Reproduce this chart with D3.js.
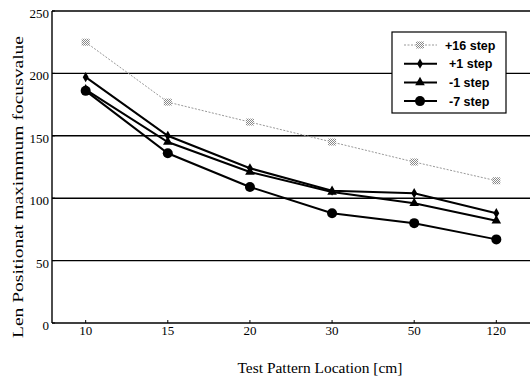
<!DOCTYPE html>
<html>
<head>
<meta charset="utf-8">
<script src="https://cdn.jsdelivr.net/npm/d3@7"></script>
<style>
  body { margin: 0; background: #fff; }
  svg { display: block; }
</style>
</head>
<body>
<svg width="530" height="380"></svg>
<script>
var categories = ["10", "15", "20", "30", "50", "120"];
var seriesNames = ["+16 step", "+1 step", "-1 step", "-7 step"];
var plus16 = [225, 177, 161, 145, 129, 114];
var plus1 = [197, 150, 124, 106, 104, 88];
var minus1 = [187, 145, 121, 105, 96, 82];
var minus7 = [186, 136, 109, 88, 80, 67];
var yTicks = [0, 50, 100, 150, 200, 250];

var plotLeft = 52, plotRight = 530, plotTop = 11, plotBottom = 323;
var svg = d3.select("svg");

var x = d3.scalePoint().domain(categories).range([plotLeft, plotRight]).padding(0.41);
var y = d3.scaleLinear().domain([0, 250]).range([plotBottom, plotTop]);

// grid lines
svg.append("g").selectAll("line").data(yTicks.slice(1)).enter().append("line")
  .attr("x1", plotLeft).attr("x2", plotRight)
  .attr("y1", function(d) { return y(d); }).attr("y2", function(d) { return y(d); })
  .attr("stroke", "#000").attr("stroke-width", 1.4);

// axes
svg.append("line").attr("x1", plotLeft).attr("x2", plotLeft).attr("y1", plotTop).attr("y2", plotBottom)
  .attr("stroke", "#000").attr("stroke-width", 1.4);
svg.append("line").attr("x1", plotLeft).attr("x2", plotRight).attr("y1", plotBottom).attr("y2", plotBottom)
  .attr("stroke", "#000").attr("stroke-width", 1.4);

svg.append("g").selectAll("text").data(yTicks).enter().append("text")
  .attr("x", plotLeft - 3).attr("y", function(d) { return y(d) + 7; })
  .attr("text-anchor", "end").style("font-family", "Liberation Serif").style("font-size", "13px")
  .text(function(d) { return d; });
svg.append("g").selectAll("line").data(yTicks).enter().append("line")
  .attr("x1", plotLeft).attr("x2", plotLeft + 3)
  .attr("y1", function(d) { return y(d); }).attr("y2", function(d) { return y(d); })
  .attr("stroke", "#000");

svg.append("g").selectAll("line").data(categories).enter().append("line")
  .attr("x1", function(d) { return x(d); }).attr("x2", function(d) { return x(d); })
  .attr("y1", plotBottom).attr("y2", plotBottom - 3).attr("stroke", "#000");
svg.append("g").selectAll("text").data(categories).enter().append("text")
  .attr("x", function(d) { return x(d); }).attr("y", plotBottom + 12)
  .attr("text-anchor", "middle").style("font-family", "Liberation Serif").style("font-size", "13px")
  .text(function(d) { return d; });

svg.append("text").attr("x", 320).attr("y", 373).attr("text-anchor", "middle")
  .style("font-family", "Liberation Serif").style("font-size", "15px")
  .attr("textLength", 165).attr("lengthAdjust", "spacingAndGlyphs")
  .text("Test Pattern Location [cm]");
svg.append("text").attr("transform", "translate(23,187) rotate(-90)")
  .attr("text-anchor", "middle").style("font-family", "Liberation Serif").style("font-size", "15px")
  .attr("textLength", 302).attr("lengthAdjust", "spacingAndGlyphs")
  .text("Len Positionat maximmum focusvalue");

// checker pattern for +16 marker
var defs = svg.append("defs");
var pat = defs.append("pattern").attr("id", "chk").attr("width", 2).attr("height", 2)
  .attr("patternUnits", "userSpaceOnUse");
pat.append("rect").attr("width", 2).attr("height", 2).attr("fill", "#fff");
pat.append("rect").attr("width", 1).attr("height", 1).attr("fill", "#888");
pat.append("rect").attr("x", 1).attr("y", 1).attr("width", 1).attr("height", 1).attr("fill", "#888");

var series = [
  { name: seriesNames[0], values: plus16, marker: "square", color: "#999", width: 1, dash: "2,1.5" },
  { name: seriesNames[1], values: plus1, marker: "diamond", color: "#000", width: 2, dash: null },
  { name: seriesNames[2], values: minus1, marker: "triangle", color: "#000", width: 2, dash: null },
  { name: seriesNames[3], values: minus7, marker: "circle", color: "#000", width: 2, dash: null }
];

function drawMarker(g, type, cx, cy) {
  if (type == "square") {
    g.append("rect").attr("x", cx - 4).attr("y", cy - 3.5).attr("width", 8).attr("height", 7)
      .attr("fill", "url(#chk)");
  } else if (type == "diamond") {
    g.append("path").attr("transform", "translate(" + cx + "," + cy + ")")
      .attr("d", d3.symbol(d3.symbolDiamond, 30)()).attr("fill", "#000");
  } else if (type == "triangle") {
    g.append("path").attr("transform", "translate(" + cx + "," + cy + ")")
      .attr("d", d3.symbol(d3.symbolTriangle, 40)()).attr("fill", "#000");
  } else {
    g.append("circle").attr("cx", cx).attr("cy", cy).attr("r", 5).attr("fill", "#000");
  }
}

var line = d3.line().x(function(d, i) { return x(categories[i]); }).y(function(d) { return y(d); });
series.forEach(function(s) {
  var g = svg.append("g");
  g.append("path").attr("d", line(s.values)).attr("fill", "none")
    .attr("stroke", s.color).attr("stroke-width", s.width)
    .attr("stroke-dasharray", s.dash);
  s.values.forEach(function(v, i) { drawMarker(g, s.marker, x(categories[i]), y(v)); });
});

// legend
var lg = svg.append("g");
lg.append("rect").attr("x", 392).attr("y", 32).attr("width", 114).attr("height", 81)
  .attr("fill", "#fff").attr("stroke", "#000").attr("stroke-width", 1.2);
series.forEach(function(s, i) {
  var ly = 45 + i * 18.7;
  lg.append("line").attr("x1", 404).attr("x2", 437).attr("y1", ly).attr("y2", ly)
    .attr("stroke", s.color).attr("stroke-width", s.width).attr("stroke-dasharray", s.dash);
  drawMarker(lg, s.marker, 420, ly);
  lg.append("text").attr("x", i == 0 ? 445 : 449).attr("y", ly + 4.5)
    .style("font-family", "Liberation Sans").style("font-weight", "bold").style("font-size", "12.5px")
    .text(s.name);
});
</script>
</body>
</html>
